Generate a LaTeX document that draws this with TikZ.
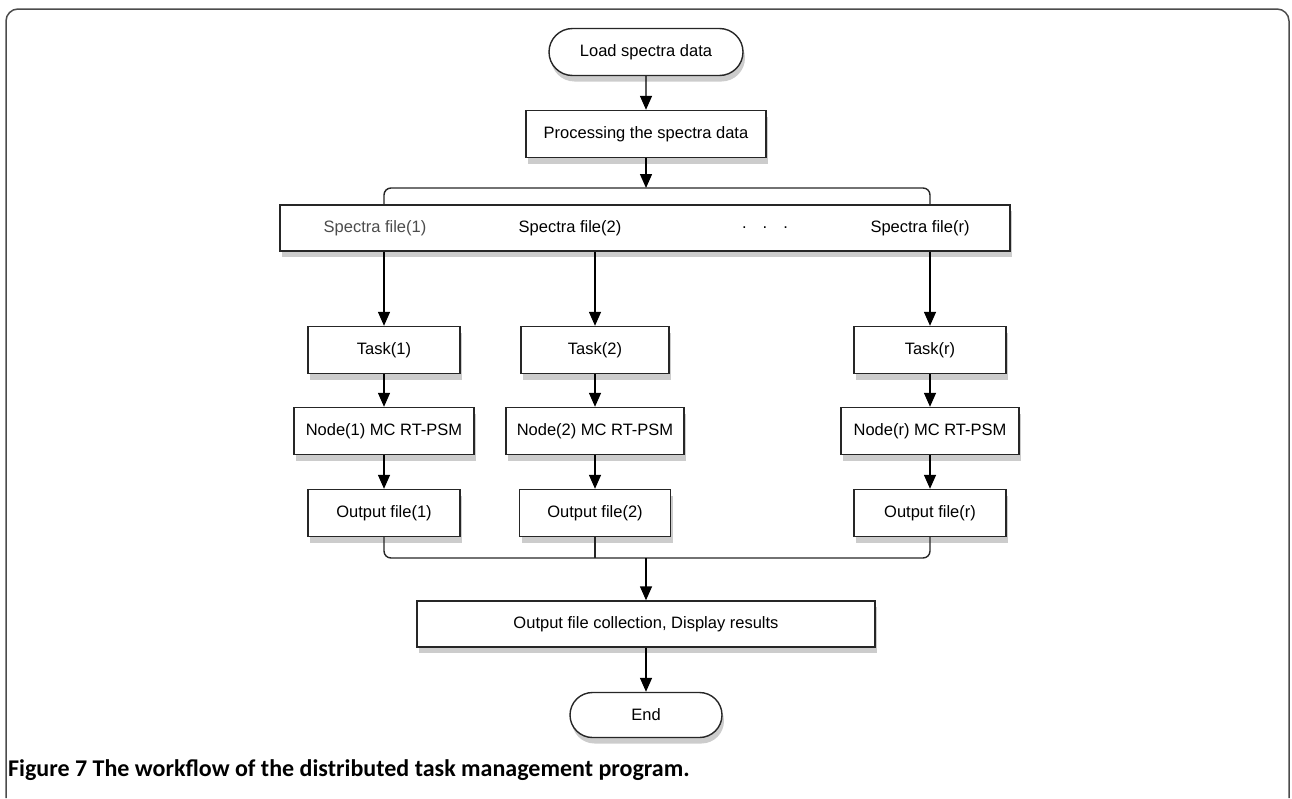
\documentclass[tikz,border=0pt]{standalone}
\usepackage{fontspec}
\setmainfont{Liberation Sans}
\newfontfamily\capfont{Carlito}
\usetikzlibrary{arrows.meta,shapes.misc,shadows}

\begin{document}
\begin{tikzpicture}[x=1pt,y=-1pt,
    box/.style={draw=black!85, line width=1.4pt, fill=white, minimum height=47pt, inner sep=0pt,
      font=\fontsize{16.5}{19}\selectfont,
      drop shadow={shadow xshift=2pt, shadow yshift=-6pt, opacity=0.4}},
    term/.style={box, rounded rectangle},
    lbl/.style={inner sep=0pt, font=\fontsize{16.5}{19}\selectfont},
    flow/.style={draw=black, line width=1.4pt, -{Triangle[length=14pt,width=12pt]}},
    link/.style={draw=black!85, line width=1.4pt, rounded corners=7pt},
    frame/.style={draw=black!70, line width=1.5pt, rounded corners=12pt}]
    \useasboundingbox (0,0) rectangle (1292,798);
    \draw[frame] (6,798) -- (6,9) -- (1289,9) -- (1289,798);

    \node[term, minimum width=194pt] (load) at (646,52) {Load spectra data};
    \node[box, minimum width=240pt] (proc) at (646,134) {Processing the spectra data};
    \node[box, minimum width=730pt, minimum height=46pt] (files) at (645,228) {};
    \node[lbl, text=black!70] (f1) at (375,228) {Spectra file(1)};
    \node[lbl] (f2) at (570,228) {Spectra file(2)};
    \node[lbl] (dots) at (765,228) {.\hspace{16pt}.\hspace{16pt}.};
    \node[lbl] (fr) at (920,228) {Spectra file(r)};

    % one column per task
    \node[box, minimum width=152pt] (task1) at (384,350) {Task(1)};
    \node[box, minimum width=148pt] (task2) at (595,350) {Task(2)};
    \node[box, minimum width=152pt] (taskr) at (930,350) {Task(r)};
    \node[box, minimum width=180pt] (node1) at (384,431) {Node(1) MC RT-PSM};
    \node[box, minimum width=178pt] (node2) at (595,431) {Node(2) MC RT-PSM};
    \node[box, minimum width=178pt] (noder) at (930,431) {Node(r) MC RT-PSM};
    \node[box, minimum width=152pt] (out1) at (384,513) {Output file(1)};
    \node[box, minimum width=151pt] (out2) at (595,513) {Output file(2)};
    \node[box, minimum width=152pt] (outr) at (930,513) {Output file(r)};

    \node[box, minimum width=458pt, minimum height=46pt] (coll) at (646,624) {Output file collection, Display results};
    \node[term, minimum width=152pt, minimum height=45pt] (stop) at (646,715) {End};

    \coordinate (topbar) at (646,188);
    \coordinate (botbar) at (646,558);

    \draw[flow] (load) -- (proc);
    \draw[flow] (proc) -- (topbar);
    \draw[link] (task1 |- files.north) |- (topbar) -| (taskr |- files.north);
    \foreach \i in {1,2,r} {
        \draw[flow] (task\i |- files.south) -- (task\i);
        \draw[flow] (task\i) -- (node\i);
        \draw[flow] (node\i) -- (out\i);
    }
    \draw[link] (out1) |- (botbar) -| (outr);
    \draw[link] (out2) -- (out2 |- botbar);
    \draw[flow] (botbar) -- (coll);
    \draw[flow] (coll) -- (stop);

    \node[anchor=base west, inner sep=0pt, font=\capfont\bfseries\fontsize{24}{28}\selectfont] (cap) at (8,776)
        {Figure 7 The workflow of the distributed task management program.};
\end{tikzpicture}
\end{document}
